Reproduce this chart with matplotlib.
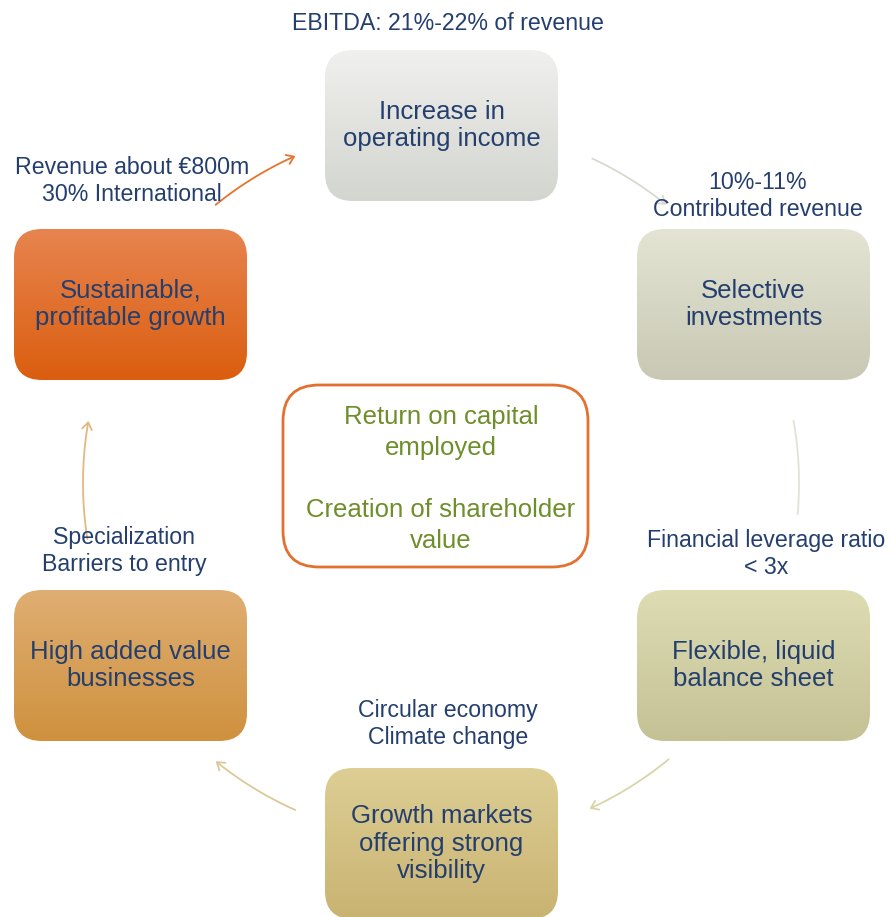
import numpy as np
import matplotlib
matplotlib.use("Agg")
import matplotlib.pyplot as plt
from matplotlib.patches import FancyBboxPatch, FancyArrowPatch
from matplotlib.path import Path
from matplotlib.colors import LinearSegmentedColormap

plt.rcParams['font.family'] = ['Liberation Sans', 'DejaVu Sans']

# cycle steps (box labels), clockwise from the top
steps = ["Increase in\noperating income",
         "Selective\ninvestments",
         "Flexible, liquid\nbalance sheet",
         "Growth markets\noffering strong\nvisibility",
         "High added value\nbusinesses",
         "Sustainable,\nprofitable growth"]

# notes attached to each step
notes = ["EBITDA: 21%-22% of revenue",
         "10%-11%\nContributed revenue",
         "Financial leverage ratio\n< 3x",
         "Circular economy\nClimate change",
         "Specialization\nBarriers to entry",
         "Revenue about €800m\n30% International"]

center_text = "Return on capital\nemployed\n\nCreation of shareholder\nvalue"

# layout (pixels)
box_xy = [(325, 50), (637, 229), (637, 590), (325, 768), (14, 590), (14, 229)]
box_w, box_h = 233, 151
box_colors = [("#f0f0ee", "#d3d5cf"), ("#e3e4d3", "#c8c8b4"),
              ("#dedcb3", "#c4c195"), ("#ddce94", "#c9b372"),
              ("#dfae72", "#cf913e"), ("#e7844f", "#db5e0f")]
note_xy = [(448, 24), (758, 196), (766, 554), (448, 724), (124, 551), (132, 181)]

# arrows: arcs on a circle around the centre
circ_c = (441, 483)
circ_r = 358
arc_angles = [(129, 114), (65, 51), (10, -5), (-50.5, -65.5), (-114, -129), (189, 170)]
arc_colors = ["#e8732e", "#d9d9d2", "#e2e2d4", "#d9d5aa", "#dcc899", "#e2b97f"]
arc_heads = [True, True, False, True, True, True]

fig = plt.figure(figsize=(8.92, 9.17), dpi=100)
ax = fig.add_axes([0, 0, 1, 1])
ax.set_xlim(0, 892)
ax.set_ylim(917, 0)
ax.axis("off")

navy = "#243f6e"

for (x, y), (c1, c2), label in zip(box_xy, box_colors, steps):
    patch = FancyBboxPatch((x, y), box_w, box_h,
                           boxstyle="round,pad=0,rounding_size=28",
                           facecolor="none", edgecolor="none")
    ax.add_patch(patch)
    cmap = LinearSegmentedColormap.from_list("g", [c1, c2])
    grad = np.linspace(0, 1, 100).reshape(-1, 1)
    im = ax.imshow(grad, cmap=cmap, extent=(x, x + box_w, y + box_h, y),
                   aspect="auto", origin="upper", zorder=1)
    im.set_clip_path(patch)
    ax.text(x + box_w / 2, y + box_h / 2, label, ha="center", va="center",
            fontsize=18.5, color=navy, linespacing=1.18, zorder=3)

for (x, y), note in zip(note_xy, notes):
    ax.text(x, y, note, ha="center", va="center", fontsize=16.7,
            color=navy, linespacing=1.2, zorder=3)

cbox = FancyBboxPatch((283, 385), 305, 182,
                      boxstyle="round,pad=0,rounding_size=36",
                      facecolor="white", edgecolor="#e2702f", linewidth=2)
ax.add_patch(cbox)
ax.text(441, 479, center_text, ha="center", va="center", fontsize=18.5,
        color="#6e8e2a", linespacing=1.38, zorder=3)

for (a0, a1), col, head in zip(arc_angles, arc_colors, arc_heads):
    t = np.radians(np.linspace(a0, a1, 40))
    px = circ_c[0] + circ_r * np.cos(t)
    py = circ_c[1] - circ_r * np.sin(t)
    style = "->,head_length=5,head_width=3.5" if head else "-"
    arr = FancyArrowPatch(path=Path(np.column_stack([px, py])),
                          arrowstyle=style, color=col, linewidth=1.3, zorder=2)
    ax.add_patch(arr)

fig.savefig("out.png", dpi=100)
